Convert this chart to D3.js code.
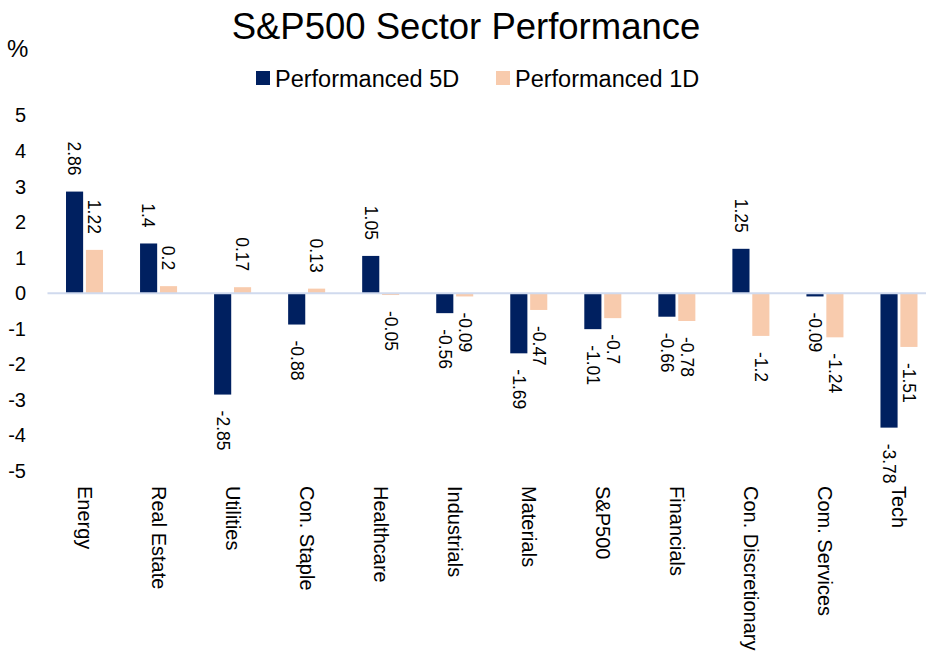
<!DOCTYPE html>
<html>
<head>
<meta charset="utf-8">
<script src="https://cdn.jsdelivr.net/npm/d3@7"></script>
<style>
  body { margin: 0; background: #fff; }
  svg text { font-family: "Liberation Sans", Arial, sans-serif; fill: #000; }
</style>
</head>
<body>
<svg id="chart" width="926" height="658"></svg>
<script>
// --- datos del gráfico ---
const sectors = ["Energy", "Real Estate", "Utilities", "Con. Staple", "Healthcare", "Industrials",
  "Materials", "S&P500", "Financials", "Con. Discretionary", "Com. Services", "Tech"];
const perf5D = [2.86, 1.4, -2.85, -0.88, 1.05, -0.56, -1.69, -1.01, -0.66, 1.25, -0.09, -3.78];
const perf1D = [1.22, 0.2, 0.17, 0.13, -0.05, -0.09, -0.47, -0.7, -0.78, -1.2, -1.24, -1.51];
const seriesNames = ["Performanced 5D", "Performanced 1D"];
const seriesColors = ["#002060", "#F8CBAD"];
const yTicks = [5, 4, 3, 2, 1, 0, -1, -2, -3, -4, -5];

const svg = d3.select("#chart");

// escalas
const x = d3.scaleBand().domain(sectors).range([47.5, 936]);
const y = d3.scaleLinear().domain([-5, 5]).range([471, 115.5]);
const groupW = x.bandwidth() * 0.5;
const x1 = d3.scaleBand().domain(seriesNames).range([0, groupW]).paddingInner(0.14);

// título
svg.append("text")
  .attr("x", 466).attr("y", 39)
  .attr("text-anchor", "middle")
  .style("font-size", "36.5px")
  .text("S&P500 Sector Performance");

// unidad del eje
svg.append("text")
  .attr("x", 7).attr("y", 57)
  .style("font-size", "24px")
  .text("%");

// leyenda
const legendX = [256, 496];
const legend = svg.append("g");
seriesNames.forEach((name, i) => {
  legend.append("rect")
    .attr("x", legendX[i]).attr("y", 71)
    .attr("width", 14).attr("height", 14)
    .attr("fill", seriesColors[i]);
  legend.append("text")
    .attr("x", legendX[i] + 19).attr("y", 86.5)
    .style("font-size", "23.5px")
    .text(name);
});

// eje Y (solo etiquetas, con guion normal)
const yAxis = d3.axisLeft(y).tickValues(yTicks).tickSize(0).tickPadding(0)
  .tickFormat(d => String(d));
svg.append("g")
  .attr("transform", "translate(26,0)")
  .call(yAxis)
  .call(g => g.select(".domain").remove())
  .call(g => g.selectAll("text")
    .attr("fill", "#000")
    .style("font-size", "20px")
    .style("font-family", "'Liberation Sans', Arial, sans-serif"));

// barras
const rows = sectors.map((s, i) => ({ sector: s, vals: [perf5D[i], perf1D[i]] }));
const groups = svg.append("g").selectAll("g")
  .data(rows)
  .join("g")
  .attr("transform", d => `translate(${x(d.sector) + (x.bandwidth() - groupW) / 2},0)`);

groups.selectAll("rect")
  .data(d => d.vals.map((v, k) => ({ v, k })))
  .join("rect")
  .attr("x", d => x1(seriesNames[d.k]))
  .attr("width", x1.bandwidth())
  .attr("y", d => y(Math.max(0, d.v)))
  .attr("height", d => Math.abs(y(d.v) - y(0)))
  .attr("fill", d => seriesColors[d.k]);

// línea del cero
svg.append("line")
  .attr("x1", x.range()[0]).attr("x2", x.range()[1])
  .attr("y1", y(0)).attr("y2", y(0))
  .attr("stroke", "#D0DAEE").attr("stroke-width", 2);

// etiquetas de valor, giradas 90°
groups.selectAll("text.val")
  .data(d => d.vals.map((v, k) => ({ v, k })))
  .join("text")
  .attr("class", "val")
  .attr("transform", d => {
    const cx = x1(seriesNames[d.k]) + x1.bandwidth() / 2;
    const cy = d.v >= 0 ? y(d.v) - 16 : y(d.v) + 16;
    return `translate(${cx},${cy}) rotate(90)`;
  })
  .attr("text-anchor", d => d.v >= 0 ? "end" : "start")
  .attr("dy", "0.35em")
  .style("font-size", "17.5px")
  .text(d => String(d.v));

// etiquetas de categoría
svg.append("g").selectAll("text")
  .data(sectors)
  .join("text")
  .attr("transform", d => `translate(${x(d) + x.bandwidth() / 2},486) rotate(90)`)
  .attr("dy", "0.35em")
  .style("font-size", "20px")
  .text(d => d);
</script>
</body>
</html>
